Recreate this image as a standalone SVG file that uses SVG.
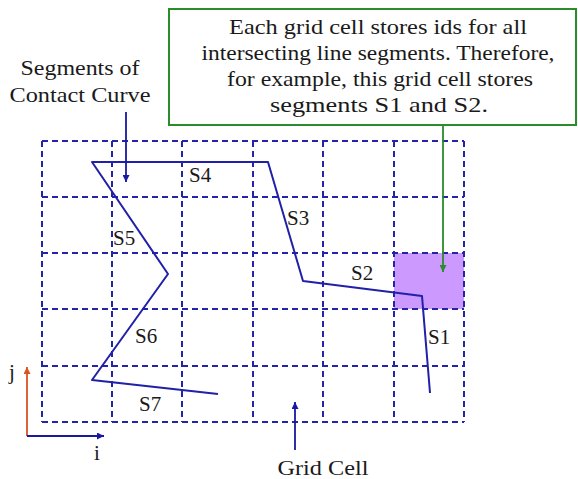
<svg xmlns="http://www.w3.org/2000/svg" width="578" height="479" viewBox="0 0 578 479">
<style>
text{font-family:"Liberation Serif","DejaVu Serif",serif;fill:#1a1a1a;font-size:21px}
.grid{stroke:#2424a8;stroke-width:2;stroke-dasharray:6 4;fill:none}
.curve{stroke:#2020a8;stroke-width:2;fill:none;stroke-linejoin:round}
.blue{stroke:#1818a0;stroke-width:1.8;fill:none}
.green{stroke:#2a8c2a;stroke-width:1.8;fill:none}
.red{stroke:#d9541e;stroke-width:1.8;fill:none}
</style>
<defs>
<marker id="ab" viewBox="0 0 10 10" refX="10" refY="5" markerWidth="11" markerHeight="7" markerUnits="userSpaceOnUse" orient="auto"><path d="M0,0L10,5L0,10z" fill="#1818a0"/></marker>
<marker id="ag" viewBox="0 0 10 10" refX="10" refY="5" markerWidth="11" markerHeight="7" markerUnits="userSpaceOnUse" orient="auto"><path d="M0,0L10,5L0,10z" fill="#2a8c2a"/></marker>
<marker id="ar" viewBox="0 0 10 10" refX="10" refY="5" markerWidth="11" markerHeight="7" markerUnits="userSpaceOnUse" orient="auto"><path d="M0,0L10,5L0,10z" fill="#d9541e"/></marker>
</defs>
<g id="highlight-cell"><rect x="394" y="253" width="70" height="56" fill="#cc99ff"/></g>
<g id="grid">
<path class="grid" d="M42,141H464M42,197H464M42,253H464M42,309H464M42,366H464M42,422H464"/>
<path class="grid" d="M42,141V422M112,141V422M182,141V422M253,141V422M323,141V422M394,141V422M464,141V422"/>
</g>
<g id="contact-curve">
<polyline class="curve" points="218,394 92,380 168,274 92,162 268,162 303,281 422,296 430,393"/>
<text x="189" y="182">S4</text>
<text x="113" y="245">S5</text>
<text x="287" y="225">S3</text>
<text x="351" y="280">S2</text>
<text x="428" y="344">S1</text>
<text x="135" y="343">S6</text>
<text x="139" y="411">S7</text>
</g>
<g id="note">
<rect x="169" y="9" width="407" height="116" fill="#fff" stroke="#2a8c2a" stroke-width="2"/>
<text x="378" y="34" text-anchor="middle" textLength="298" lengthAdjust="spacingAndGlyphs">Each grid cell stores ids for all</text>
<text x="378" y="60" text-anchor="middle" textLength="353" lengthAdjust="spacingAndGlyphs">intersecting line segments. Therefore,</text>
<text x="380" y="86" text-anchor="middle" textLength="306" lengthAdjust="spacingAndGlyphs">for example, this grid cell stores</text>
<text x="379" y="112" text-anchor="middle" textLength="218" lengthAdjust="spacingAndGlyphs">segments  S1 and S2.</text>
</g>
<g id="segments-label">
<text x="80" y="75" text-anchor="middle" textLength="119" lengthAdjust="spacingAndGlyphs">Segments of</text>
<text x="80" y="102" text-anchor="middle" textLength="141" lengthAdjust="spacingAndGlyphs">Contact Curve</text>
</g>
<g id="grid-cell-label">
<text x="323" y="475" text-anchor="middle" textLength="91" lengthAdjust="spacingAndGlyphs">Grid Cell</text>
</g>
<g id="axes">
<text x="12" y="379" text-anchor="middle">j</text>
<text x="97" y="460" text-anchor="middle">i</text>
</g>
<g id="connectors">
<line class="blue" x1="126" y1="112" x2="126" y2="182" marker-end="url(#ab)"/>
<line class="green" x1="443" y1="125" x2="443" y2="272" marker-end="url(#ag)"/>
<line class="blue" x1="295" y1="450" x2="295" y2="402" marker-end="url(#ab)"/>
<line class="red" x1="27" y1="436" x2="27" y2="367" marker-end="url(#ar)"/>
<line class="blue" x1="27" y1="436" x2="104" y2="436" marker-end="url(#ab)"/>
</g>
</svg>
